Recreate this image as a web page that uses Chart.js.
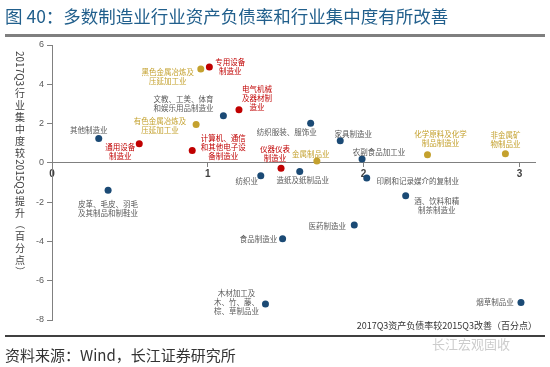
<!DOCTYPE html>
<html>
<head>
<meta charset="utf-8">
<script src="https://cdn.jsdelivr.net/npm/chart.js@4.4.1/dist/chart.umd.min.js"></script>
<style>
    html, body { margin: 0; padding: 0; background: #fff; }
    #wrap { width: 550px; height: 367px; position: relative; }
</style>
</head>
<body>
<div id="wrap"><canvas id="chart" width="550" height="367"></canvas></div>
<script>
/* ============================================
   图40 - 行业资产负债率 vs 行业集中度 (scatter)
   ============================================ */

// Data
const industries = [
    '其他制造业', '通用设备\n制造业', '黑色金属冶炼及\n压延加工业', '专用设备\n制造业',
    '文教、工美、体育\n和娱乐用品制造业', '电气机械\n及器材制\n造业', '有色金属冶炼及\n压延加工业',
    '计算机、通信\n和其他电子设\n备制造业', '纺织服装、服饰业', '家具制造业', '金属制品业',
    '农副食品加工业', '仪器仪表\n制造业', '纺织业', '造纸及纸制品业', '印刷和记录媒介的复制业',
    '化学原料及化学\n制品制造业', '非金属矿\n物制品业', '皮革、毛皮、羽毛\n及其制品和制鞋业',
    '食品制造业', '医药制造业', '木材加工及\n木、竹、藤、\n棕、草制品业', '酒、饮料和精\n制茶制造业', '烟草制品业'
];
const debtImprove = [0.30, 0.56, 0.955, 1.01, 1.10, 1.20, 0.925, 0.90, 1.66, 1.85, 1.70, 1.99,
    1.47, 1.34, 1.59, 2.02, 2.41, 2.91, 0.36, 1.48, 1.94, 1.37, 2.27, 3.01];
const concentrationRise = [1.24, 0.97, 4.78, 4.88, 2.40, 2.70, 1.95, 0.63, 2.02, 1.12, 0.10, 0.20,
    -0.27, -0.65, -0.44, -0.77, 0.41, 0.47, -1.39, -3.86, -3.16, -7.18, -1.67, -7.11];
const groups = ['blue', 'red', 'gold', 'red', 'blue', 'red', 'gold', 'red', 'blue', 'blue', 'gold', 'blue',
    'red', 'blue', 'blue', 'blue', 'gold', 'gold', 'blue', 'blue', 'blue', 'blue', 'blue', 'blue'];
const xTickValues = [0, 1, 2, 3];
const yTickValues = [6, 4, 2, 0, -2, -4, -6, -8];

// label placement relative to its point (px)
const labelOffsets = [
    [-10, -8], [-19, 8], [-33, 8], [21, 0], [-40, -12], [18, -12], [-36, 1], [31, -3],
    [-24, 9], [13, -7], [-6, -7], [17, -7], [-6, -15], [-14, 6], [3, 9], [51, 3],
    [13, -16], [0, -14], [0, 18], [-24, 0], [-27, 1], [-29, -2], [31, 10], [-26, 0]
];

const pointColors = { blue: '#1b4a75', red: '#c00000', gold: '#c4a12e' };
const textColors = { blue: '#595959', red: '#c00000', gold: '#c4a12e' };
const CJK = '"Noto Sans CJK SC", "Noto Sans", sans-serif';

const datasets = ['blue', 'red', 'gold'].map(g => ({
    label: g,
    data: industries.map((n, i) => ({ x: debtImprove[i], y: concentrationRise[i], i })).filter(p => groups[p.i] === g),
    backgroundColor: pointColors[g],
    borderWidth: 0,
    pointRadius: 3.5,
    pointHoverRadius: 3.5
}));

const decor = {
    id: 'decor',
    beforeDraw(chart) {
        const ctx = chart.ctx;
        ctx.save();
        ctx.fillStyle = '#fff';
        ctx.fillRect(0, 0, chart.width, chart.height);
        ctx.restore();
    },
    afterDraw(chart) {
        const ctx = chart.ctx;
        ctx.save();

        // title + rule
        ctx.fillStyle = '#215f8c';
        ctx.font = '17.5px ' + CJK;
        ctx.textBaseline = 'middle';
        ctx.textAlign = 'left';
        ctx.fillText('图 40：多数制造业行业资产负债率和行业集中度有所改善', 5, 16);
        ctx.fillStyle = '#7f7f7f';
        ctx.fillRect(5, 34, 540, 3);

        // point labels
        ctx.font = '7.5px ' + CJK;
        ctx.textAlign = 'center';
        chart.data.datasets.forEach((ds, di) => {
            const meta = chart.getDatasetMeta(di);
            meta.data.forEach((el, j) => {
                const idx = ds.data[j].i;
                const lines = industries[idx].split('\n');
                const cx = el.x + labelOffsets[idx][0];
                const cy = el.y + labelOffsets[idx][1];
                ctx.fillStyle = textColors[groups[idx]];
                lines.forEach((ln, k) => {
                    ctx.fillText(ln, cx, cy + (k - (lines.length - 1) / 2) * 9);
                });
            });
        });

        // y axis title, vertical
        const tokens = ['2017Q3', '行', '业', '集', '中', '度', '较', '2015Q3', '提', '升', '（', '百', '分', '点', '）'];
        let y = 51;
        ctx.fillStyle = '#404040';
        ctx.font = '10px ' + CJK;
        tokens.forEach(t => {
            if (/^[\x00-\x7f]+$/.test(t) || t === '（' || t === '）') {
                const w = t.length > 1 ? ctx.measureText(t).width : 10;
                ctx.save();
                ctx.translate(20, y + w / 2);
                ctx.rotate(Math.PI / 2);
                ctx.textAlign = 'center';
                ctx.fillText(t, 0, 0);
                ctx.restore();
                y += w + 1;
            } else {
                ctx.textAlign = 'center';
                ctx.fillText(t, 20, y + 6);
                y += 12;
            }
        });

        // x axis title
        ctx.font = '9px ' + CJK;
        ctx.textAlign = 'right';
        ctx.fillStyle = '#333';
        ctx.fillText('2017Q3资产负债率较2015Q3改善（百分点）', 537, 326);

        // footer
        ctx.fillStyle = '#404040';
        ctx.fillRect(5, 335, 540, 2);
        ctx.fillStyle = '#333';
        ctx.font = '15px ' + CJK;
        ctx.textAlign = 'left';
        ctx.fillText('资料来源：Wind，长江证券研究所', 5, 355);
        ctx.fillStyle = 'rgba(170,170,170,0.6)';
        ctx.font = '13px ' + CJK;
        ctx.fillText('长江宏观固收', 432, 344);

        ctx.restore();
    }
};

new Chart(document.getElementById('chart'), {
    type: 'scatter',
    data: { datasets },
    options: {
        responsive: false,
        devicePixelRatio: 1,
        animation: false,
        layout: { padding: { left: 0, right: 15, top: 45, bottom: 47 } },
        plugins: { legend: { display: false }, tooltip: { enabled: false }, title: { display: false } },
        scales: {
            x: {
                type: 'linear', position: { y: 0 }, min: 0, max: 3.1,
                afterBuildTicks: s => { s.ticks = xTickValues.map(v => ({ value: v })); },
                ticks: { color: '#404040', font: { family: 'Liberation Sans', size: 10, weight: 'bold' }, padding: 1, maxRotation: 0 },
                grid: { display: true, drawOnChartArea: false, drawTicks: true, tickLength: 4, color: '#808080' },
                border: { color: '#808080', width: 1 }
            },
            y: {
                type: 'linear', position: 'left', min: -8, max: 6,
                afterBuildTicks: s => { s.ticks = yTickValues.map(v => ({ value: v })); },
                afterFit: s => { s.width = 52; },
                ticks: { color: '#595959', font: { family: 'Liberation Sans', size: 9 }, padding: 3 },
                grid: { display: true, drawOnChartArea: false, drawTicks: true, tickLength: 5, color: '#808080' },
                border: { color: '#808080', width: 1 }
            }
        }
    },
    plugins: [decor]
});
</script>
</body>
</html>
